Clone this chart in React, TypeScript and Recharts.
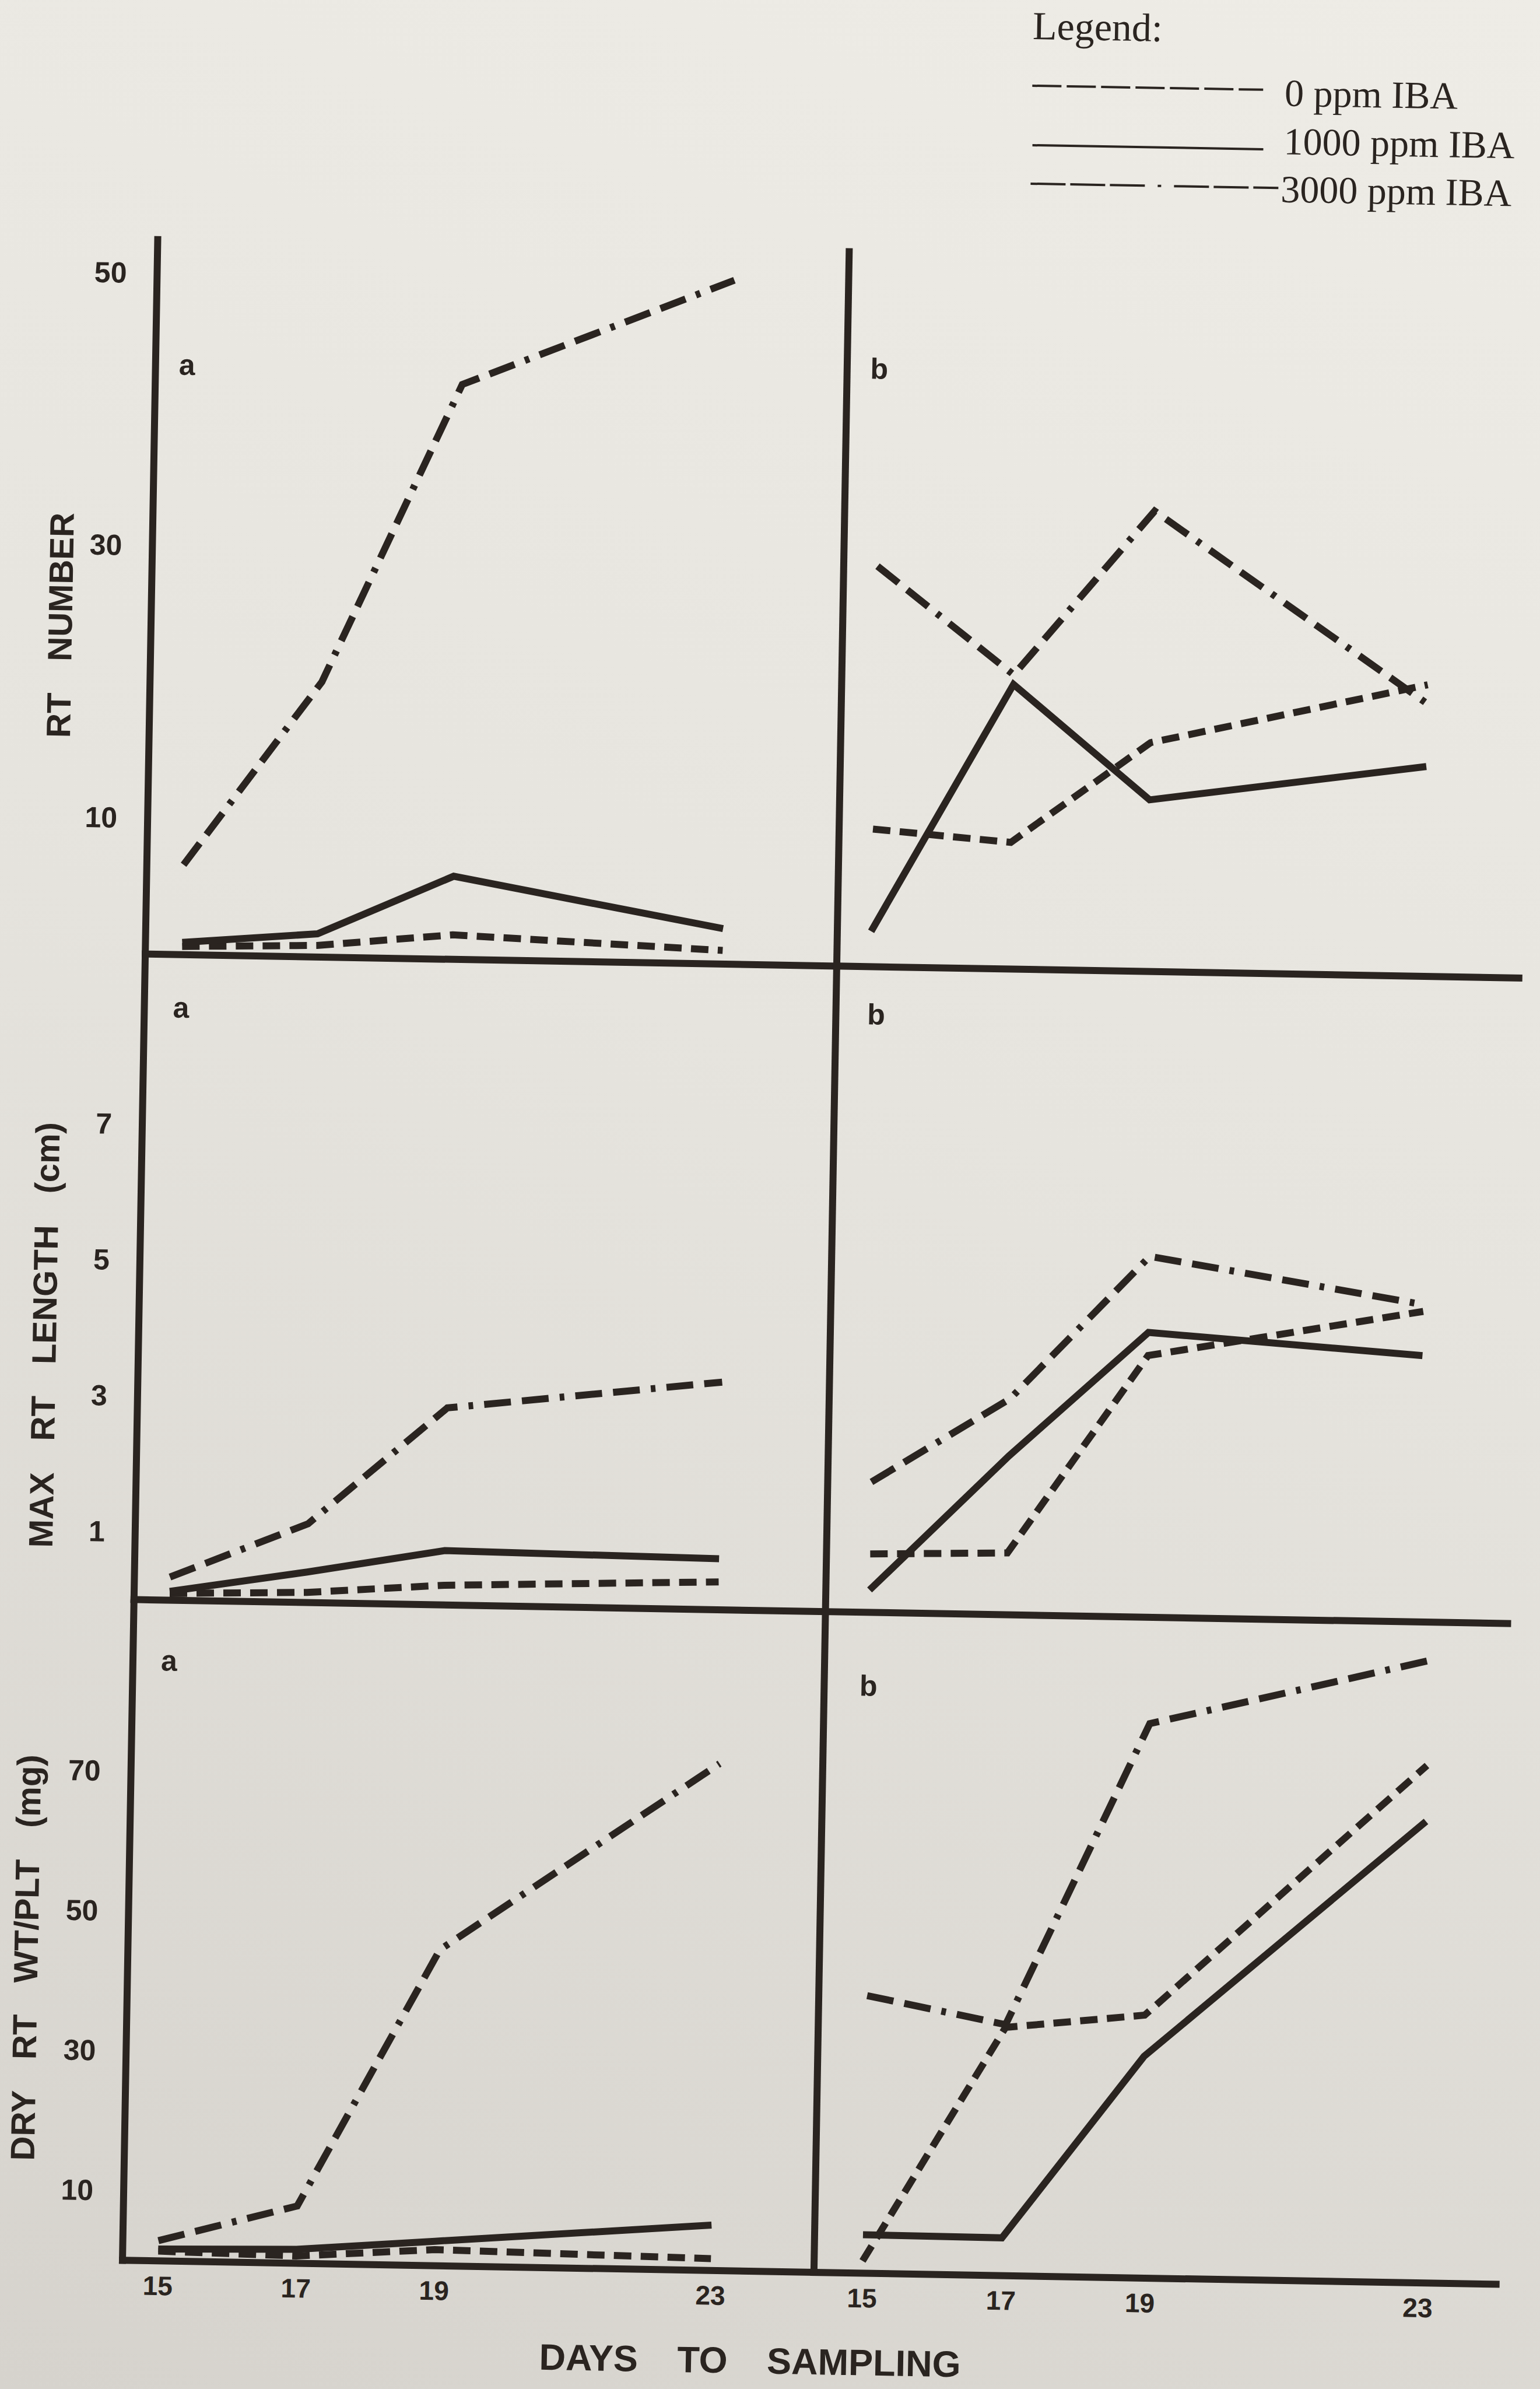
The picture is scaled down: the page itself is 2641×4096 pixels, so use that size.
import React from 'react';
import { LineChart, Line, XAxis, YAxis } from 'recharts';

const days = [15, 17, 19, 23];

// a = left column, b = right column; series are 0 / 1000 / 3000 ppm IBA
const rtNumberA0 = [0.6, 0.85, 1.8, 1.0];
const rtNumberA1000 = [0.9, 1.7, 6.1, 2.6];
const rtNumberA3000 = [6.6, 20.2, 42.2, 50.2];
const rtNumberB0 = [10.1, 9.3, 16.8, 21.4];
const rtNumberB1000 = [2.6, 20.9, 12.6, 15.4];
const rtNumberB3000 = [29.4, 21.6, 33.8, 20.0];

const rtLengthA0 = [0.1, 0.15, 0.29, 0.41];
const rtLengthA1000 = [0.13, 0.45, 0.8, 0.75];
const rtLengthA3000 = [0.34, 1.16, 2.9, 3.35];
const rtLengthB0 = [0.86, 0.91, 3.85, 4.57];
const rtLengthB1000 = [0.33, 2.34, 4.19, 3.92];
const rtLengthB3000 = [1.92, 3.18, 5.31, 4.67];

const dryWtA0 = [1.4, 1.05, 2.3, 1.7];
const dryWtA1000 = [1.7, 2.0, 3.5, 6.5];
const dryWtA3000 = [2.9, 8.2, 45.2, 72.5];
const dryWtB0 = [1.75, 35.5, 37.6, 74];
const dryWtB1000 = [5.5, 5.4, 31.7, 66];
const dryWtB3000 = [39.7, 35.9, 79.3, 89];

const rtNumberTicks = [10, 30, 50];
const rtLengthTicks = [1, 3, 5, 7];
const dryWtTicks = [10, 30, 50, 70];

const yTitles = ['RT NUMBER', 'MAX RT LENGTH (cm)', 'DRY RT WT/PLT (mg)'];
const legendItems = ['0 ppm IBA', '1000 ppm IBA', '3000 ppm IBA'];

const INK = '#2a2420';
const SANS = '"Liberation Sans", Arial, Helvetica, sans-serif';
const SERIF = '"Liberation Serif", "Times New Roman", serif';
const DASH_0 = '30 16';
const DASH_3000 = '46 19 46 19 8 19';
const LINE_W = 12;

type PanelProps = {
  x: number;
  y: number;
  plotW: number;
  plotH: number;
  axisW: number;
  bottomH: number;
  x15: number;
  x23: number;
  yMax: number;
  yTicks?: number[];
  showDays?: boolean;
  s0: number[];
  s1000: number[];
  s3000: number[];
};

const Panel = ({ x, y, plotW, plotH, axisW, bottomH, x15, x23, yMax, yTicks, showDays, s0, s1000, s3000 }: PanelProps) => {
  const data = days.map((d, i) => ({ day: d, c0: s0[i], c1000: s1000[i], c3000: s3000[i] }));
  // pixel anchors of day 15 and day 23 -> x domain of the plot
  const perDay = (x23 - x15) / 8;
  const xDomain = [15 - (x15 - x) / perDay, 23 + (x + plotW - x23) / perDay];
  const axisLine = { stroke: INK, strokeWidth: LINE_W, strokeLinecap: 'square' };

  return (
    <div style={{ position: 'absolute', left: x - axisW, top: y }}>
      <LineChart width={axisW + plotW} height={plotH + bottomH} data={data} margin={{ top: 0, right: 0, bottom: 0, left: 0 }}>
        <XAxis
          type="number"
          dataKey="day"
          domain={xDomain}
          allowDataOverflow
          ticks={days}
          interval={0}
          height={bottomH}
          axisLine={axisLine}
          tickLine={false}
          tickSize={0}
          tickMargin={26}
          tick={showDays ? { fill: INK, fontSize: 46, fontWeight: 700, fontFamily: SANS } : false}
        />
        <YAxis
          type="number"
          domain={[0, yMax]}
          allowDataOverflow
          ticks={yTicks ?? []}
          interval={0}
          width={axisW}
          axisLine={axisLine}
          tickLine={false}
          tickSize={0}
          tickMargin={52}
          tick={yTicks ? { fill: INK, fontSize: 50, fontWeight: 700, fontFamily: SANS } : false}
        />
        <Line type="linear" dataKey="c0" stroke={INK} strokeWidth={LINE_W} strokeDasharray={DASH_0} dot={false} activeDot={false} isAnimationActive={false} />
        <Line type="linear" dataKey="c1000" stroke={INK} strokeWidth={LINE_W} dot={false} activeDot={false} isAnimationActive={false} />
        <Line type="linear" dataKey="c3000" stroke={INK} strokeWidth={LINE_W} strokeDasharray={DASH_3000} dot={false} activeDot={false} isAnimationActive={false} />
      </LineChart>
    </div>
  );
};

const LEFT_X = 240;
const MID_X = 1426;
const RIGHT_END = 2602;
const ROWS = [425, 1656, 2763, 3896];

export default function App() {
  const leftW = MID_X - LEFT_X;
  const rightW = RIGHT_END - MID_X;
  const h1 = ROWS[1] - ROWS[0];
  const h2 = ROWS[2] - ROWS[1];
  const h3 = ROWS[3] - ROWS[2];

  return (
    <div
      style={{
        position: 'absolute',
        left: 0,
        top: 0,
        width: 2641,
        height: 4096,
        overflow: 'hidden',
        background: 'linear-gradient(200deg, #eeece6 0%, #e6e4de 45%, #d6d3cd 100%)',
      }}
    >
      <div
        style={{
          position: 'absolute',
          left: 0,
          top: 0,
          width: 2641,
          height: 4096,
          transform: 'rotate(1deg)',
          transformOrigin: '1411px 2168px',
        }}
      >
        <Panel x={LEFT_X} y={ROWS[0]} plotW={leftW} plotH={h1} axisW={240} bottomH={20} x15={303} x23={1230}
          yMax={52.7} yTicks={rtNumberTicks} s0={rtNumberA0} s1000={rtNumberA1000} s3000={rtNumberA3000} />
        <Panel x={MID_X} y={ROWS[0]} plotW={rightW} plotH={h1} axisW={30} bottomH={20} x15={1484} x23={2431}
          yMax={52.7} s0={rtNumberB0} s1000={rtNumberB1000} s3000={rtNumberB3000} />

        <Panel x={LEFT_X} y={ROWS[1]} plotW={leftW} plotH={h2} axisW={240} bottomH={20} x15={301} x23={1242}
          yMax={9.5} yTicks={rtLengthTicks} s0={rtLengthA0} s1000={rtLengthA1000} s3000={rtLengthA3000} />
        <Panel x={MID_X} y={ROWS[1]} plotW={rightW} plotH={h2} axisW={30} bottomH={20} x15={1501} x23={2442}
          yMax={9.5} s0={rtLengthB0} s1000={rtLengthB1000} s3000={rtLengthB3000} />

        <Panel x={LEFT_X} y={ROWS[2]} plotW={leftW} plotH={h3} axisW={240} bottomH={130} x15={301} x23={1249}
          yMax={94.5} yTicks={dryWtTicks} showDays s0={dryWtA0} s1000={dryWtA1000} s3000={dryWtA3000} />
        <Panel x={MID_X} y={ROWS[2]} plotW={rightW} plotH={h3} axisW={30} bottomH={130} x15={1509} x23={2462}
          yMax={94.5} showDays s0={dryWtB0} s1000={dryWtB1000} s3000={dryWtB3000} />

        <svg width={2641} height={4096} style={{ position: 'absolute', left: 0, top: 0, pointerEvents: 'none' }}>
          {/* legend */}
          <text x={1734} y={61} fontFamily={SERIF} fontSize={68} fill={INK}>Legend:</text>
          <line x1={1735} x2={2131} y1={141} y2={141} stroke={INK} strokeWidth={4} strokeDasharray="50 9" />
          <line x1={1737} x2={2133} y1={243} y2={243} stroke={INK} strokeWidth={4} />
          <line x1={1735} x2={2160} y1={309} y2={309} stroke={INK} strokeWidth={4}
            strokeDasharray="60 8 60 8 60 22 6 22 60 8 60 8 60" />
          <text x={2168} y={168} fontFamily={SERIF} fontSize={66} fill={INK}>{legendItems[0]}</text>
          <text x={2168} y={251} fontFamily={SERIF} fontSize={66} fill={INK}>{legendItems[1]}</text>
          <text x={2164} y={333} fontFamily={SERIF} fontSize={66} fill={INK}>{legendItems[2]}</text>

          {/* y titles */}
          {[
            [84, 1095],
            [78, 2312],
            [65, 3380],
          ].map(([cx, cy], i) => (
            <text key={i} x={cx} y={cy} transform={`rotate(-90 ${cx} ${cy})`} textAnchor="middle" dominantBaseline="central"
              fontFamily={SANS} fontSize={58} fontWeight={700} wordSpacing={38} fill={INK}>
              {yTitles[i]}
            </text>
          ))}

          {/* panel letters */}
          <text x={294} y={662} textAnchor="middle" fontFamily={SANS} fontSize={50} fontWeight={700} fill={INK}>a</text>
          <text x={1481} y={648} textAnchor="middle" fontFamily={SANS} fontSize={50} fontWeight={700} fill={INK}>b</text>
          <text x={303} y={1764} textAnchor="middle" fontFamily={SANS} fontSize={50} fontWeight={700} fill={INK}>a</text>
          <text x={1495} y={1755} textAnchor="middle" fontFamily={SANS} fontSize={50} fontWeight={700} fill={INK}>b</text>
          <text x={302} y={2884} textAnchor="middle" fontFamily={SANS} fontSize={50} fontWeight={700} fill={INK}>a</text>
          <text x={1502} y={2906} textAnchor="middle" fontFamily={SANS} fontSize={50} fontWeight={700} fill={INK}>b</text>

          {/* x title */}
          <text x={1319} y={4071} textAnchor="middle" fontFamily={SANS} fontSize={63} fontWeight={700} wordSpacing={50} fill={INK}>
            DAYS TO SAMPLING
          </text>
        </svg>
      </div>
    </div>
  );
}
